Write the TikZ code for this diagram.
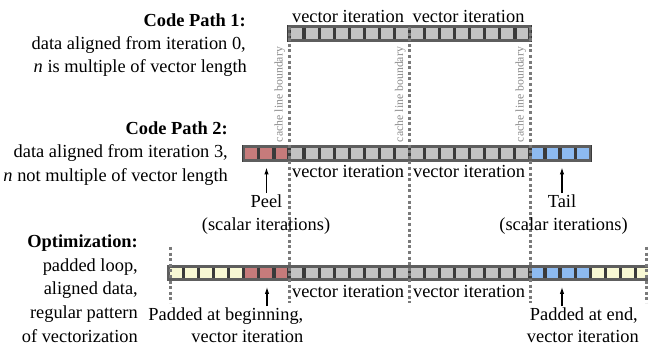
\documentclass[tikz,border=0pt]{standalone}
\usepackage{fontspec}
\setmainfont{Liberation Serif}
\usetikzlibrary{arrows.meta}
\definecolor{cellgray}{HTML}{C3C3C3}
\definecolor{cellred}{HTML}{C67B7B}
\definecolor{cellblue}{HTML}{8DBAF0}
\definecolor{cellyellow}{HTML}{F8F8D4}
\definecolor{sepdark}{HTML}{3A3A3A}
\definecolor{borderg}{HTML}{5E5E5E}
\definecolor{dotg}{HTML}{7A7A7A}
\definecolor{cachetxt}{HTML}{8C8C8C}
\def\cw{15.06}
\def\ch{13.5}
\newcommand\cellrun[5]{\foreach \k in {1,...,#4}{\draw[cellbox,fill=#5] ({#1+(#3+\k-1)*\cw},#2) rectangle ++(\cw,\ch);}}
\begin{document}
\begin{tikzpicture}[x=1pt,y=-1pt,
  txt/.style={inner sep=0pt,font=\fontsize{18.4}{22}\selectfont},
  lbl/.style={txt,anchor=base east},
  ctr/.style={txt,anchor=base},
  cache/.style={inner sep=0pt,rotate=90,anchor=base,text=cachetxt,font=\fontsize{11.8}{12}\selectfont},
  cellbox/.style={draw=sepdark,line width=3.2pt},
  rowborder/.style={draw=borderg,line width=2.6pt},
  cacheline/.style={draw=dotg,line width=3pt,dash pattern=on 3pt off 2.6pt},
  arr/.style={-{Latex[length=7pt,width=4.5pt]},line width=1.1pt,black}]
\useasboundingbox (0,0) rectangle (648,347);
\fill[white] (0,0) rectangle (648,347);

% Row 1
\cellrun{289}{26.75}{0}{16}{cellgray}
\draw[rowborder] (289,26.75) rectangle ++({16*\cw},\ch);
% Row 2
\cellrun{243.8}{146.75}{0}{3}{cellred}
\cellrun{243.8}{146.75}{3}{16}{cellgray}
\cellrun{243.8}{146.75}{19}{4}{cellblue}
\draw[rowborder] (243.8,146.75) rectangle ++({23*\cw},\ch);
% Row 3
\cellrun{168.5}{266.25}{0}{5}{cellyellow}
\cellrun{168.5}{266.25}{5}{3}{cellred}
\cellrun{168.5}{266.25}{8}{16}{cellgray}
\cellrun{168.5}{266.25}{24}{4}{cellblue}
\cellrun{168.5}{266.25}{28}{4}{cellyellow}
\draw[rowborder] (168.5,266.25) rectangle ++({32*\cw},\ch);

% cache line boundaries
\coordinate (c1t) at (289,27);   \coordinate (c1b) at (289,303);
\coordinate (c2t) at (409.5,27); \coordinate (c2b) at (409.5,303);
\coordinate (c3t) at (530,27);   \coordinate (c3b) at (530,303);
\coordinate (c4t) at (170,247);  \coordinate (c4b) at (170,303);
\coordinate (c5t) at (646.5,247);\coordinate (c5b) at (646.5,303);
\draw[cacheline] (c1t) -- (c1b);
\draw[cacheline] (c2t) -- (c2b);
\draw[cacheline] (c3t) -- (c3b);
\draw[cacheline] (c4t) -- (c4b);
\draw[cacheline] (c5t) -- (c5b);
\node[cache] (cl1) at (282.5,94.5) {cache line boundary};
\node[cache] (cl2) at (403,94.5) {cache line boundary};
\node[cache] (cl3) at (523.5,94.5) {cache line boundary};

% left descriptions
\node[lbl] (cp1a) at (246,26.5) {\textbf{Code Path 1:}};
\node[lbl] (cp1b) at (246,50) {data aligned from iteration 0,};
\node[lbl] (cp1c) at (247,72.5) {\textit{n} is multiple of vector length};
\node[lbl] (cp2a) at (228,135) {\textbf{Code Path 2:}};
\node[lbl] (cp2b) at (228,158) {data aligned from iteration 3,};
\node[lbl] (cp2c) at (228,181.5) {\textit{n} not multiple of vector length};
\node[lbl] (opa) at (138,248) {\textbf{Optimization:}};
\node[lbl] (opb) at (138,271.5) {padded loop,};
\node[lbl] (opc) at (138,295) {aligned data,};
\node[lbl] (opd) at (138,318.5) {regular pattern};
\node[lbl] (ope) at (138,342) {of vectorization};

% vector iteration labels
\node[ctr] (v1a) at (348,23) {vector iteration};
\node[ctr] (v1b) at (468.5,23) {vector iteration};
\node[ctr] (v2a) at (348,178) {vector iteration};
\node[ctr] (v2b) at (469,178) {vector iteration};
\node[ctr] (v3a) at (348,298) {vector iteration};
\node[ctr] (v3b) at (469,298) {vector iteration};

% Peel / Tail
\node[ctr] (peel1) at (266.5,208) {Peel};
\node[ctr] (peel2) at (266,230.5) {(scalar iterations)};
\coordinate (peeltip) at (266.5,167.5);
\draw[arr] ([yshift=2pt]peel1.north) -- (peeltip);
\node[ctr] (tail1) at (562,208) {Tail};
\node[ctr] (tail2) at (563.5,230.5) {(scalar iterations)};
\coordinate (tailtip) at (562,167.5);
\draw[arr] ([yshift=2pt]tail1.north) -- (tailtip);

% padded labels
\node[lbl] (pb1) at (303.5,321) {Padded at beginning,};
\node[lbl] (pb2) at (303.5,343) {vector iteration};
\coordinate (pbtip) at (267,287);
\draw[arr] ([yshift=2pt]pbtip |- pb1.north) -- (pbtip);
\node[lbl] (pe1) at (638,321) {Padded at end,};
\node[lbl] (pe2) at (639,343) {vector iteration};
\coordinate (petip) at (562,287);
\draw[arr] ([yshift=2pt]petip |- pe1.north) -- (petip);
\end{tikzpicture}
\end{document}
